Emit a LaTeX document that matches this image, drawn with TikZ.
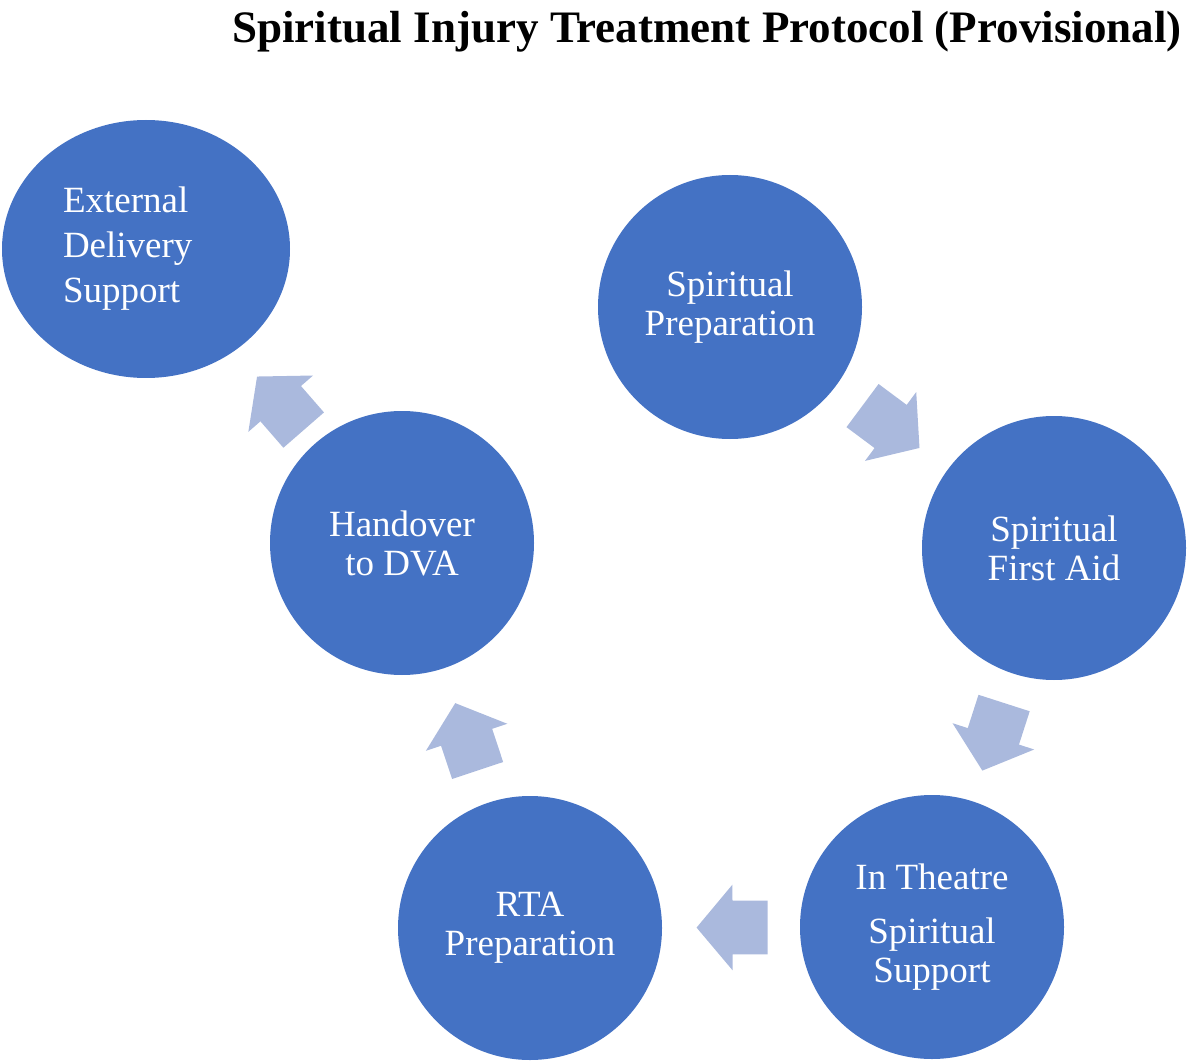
\documentclass[tikz,border=0pt]{standalone}
\usepackage{fontspec}
\setmainfont{Liberation Serif}
\usepackage{xcolor}
\usepackage{tikz}
\usetikzlibrary{arrows, positioning, shapes.geometric, shapes.arrows}
\definecolor{stageblue}{HTML}{4472C4}
\definecolor{flowgrey}{HTML}{AAB9DD}
\tikzstyle{stage} = [circle, fill=stageblue, text=white, align=center, minimum size=132pt, inner sep=0pt, font=\fontsize{18.5}{19.5}\selectfont]
\tikzstyle{flow} = [single arrow, fill=flowgrey, draw=none, inner xsep=0pt, inner ysep=13.25pt, single arrow head extend=8pt, single arrow tip angle=100, minimum height=35.5pt, sloped, allow upside down, pos=0.41]

\begin{document}
\begin{tikzpicture}[x=0.5pt, y=-0.5pt]
    \useasboundingbox (0,0) rectangle (1200,1064);
    \node (title) [anchor=base, font=\bfseries\fontsize{22.5}{27}\selectfont] at (707,43) {Spiritual Injury Treatment Protocol (Provisional)};

    \node (prep) [stage] at (730,307) {Spiritual\\Preparation};
    \node (aid) [stage] at (1054,548) {Spiritual\\First Aid};
    \node (theatre) [stage] at (932,927) {In Theatre\\[7.5pt]Spiritual\\Support};
    \node (rta) [stage] at (530,928) {RTA\\Preparation};
    \node (dva) [stage] at (402,543) {Handover\\to DVA};
    \node (ext) [stage, ellipse, minimum width=144pt, minimum height=129pt, text width=83pt, align=left, font=\fontsize{18.5}{22.5}\selectfont] at (146,249) {External\\Delivery\\Support};

    \path (prep) -- node[flow] {} (aid)
          (aid) -- node[flow] {} (theatre)
          (theatre) -- node[flow] {} (rta)
          (rta) -- node[flow] {} (dva)
          (dva) -- node[flow, pos=0.34] {} (ext);
\end{tikzpicture}
\end{document}
